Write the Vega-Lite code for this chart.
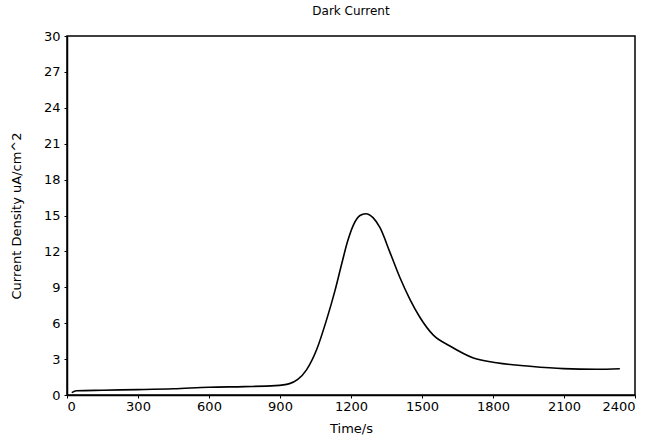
{
  "$schema": "https://vega.github.io/schema/vega-lite/v6.json",
  "width": 568,
  "height": 359,
  "autosize": {"type": "none"},
  "padding": {"left": 67, "top": 36, "right": 13, "bottom": 47},
  "background": "white",
  "title": {"text": "Dark Current", "font": "DejaVu Sans", "fontSize": 12, "fontWeight": "normal", "color": "black", "offset": 12, "anchor": "middle"},
  "config": {
    "view": {"stroke": "black", "strokeWidth": 1.5},
    "axis": {"domainColor": "black", "domainWidth": 1.5, "tickColor": "black", "grid": false, "labelFont": "DejaVu Sans", "labelFontSize": 13, "labelColor": "black", "titleFont": "DejaVu Sans", "titleFontSize": 13, "titleFontWeight": "normal", "titleColor": "black", "tickSize": 3}
  },
  "data": {"values": [
    {"t": 20, "v": 0.2},
    {"t": 40, "v": 0.35},
    {"t": 150, "v": 0.4},
    {"t": 300, "v": 0.45},
    {"t": 450, "v": 0.52},
    {"t": 600, "v": 0.65},
    {"t": 750, "v": 0.7},
    {"t": 880, "v": 0.78},
    {"t": 940, "v": 0.95},
    {"t": 975, "v": 1.3},
    {"t": 1012, "v": 2.1},
    {"t": 1055, "v": 3.8},
    {"t": 1097, "v": 6.3},
    {"t": 1132, "v": 8.7},
    {"t": 1160, "v": 10.9},
    {"t": 1185, "v": 12.8},
    {"t": 1210, "v": 14.2},
    {"t": 1238, "v": 15.0},
    {"t": 1262, "v": 15.15},
    {"t": 1294, "v": 14.8},
    {"t": 1322, "v": 14.0},
    {"t": 1365, "v": 11.9},
    {"t": 1407, "v": 9.8},
    {"t": 1449, "v": 8.0},
    {"t": 1491, "v": 6.5},
    {"t": 1548, "v": 5.0},
    {"t": 1618, "v": 4.1},
    {"t": 1717, "v": 3.1},
    {"t": 1815, "v": 2.7},
    {"t": 1956, "v": 2.4},
    {"t": 2097, "v": 2.2},
    {"t": 2238, "v": 2.15},
    {"t": 2336, "v": 2.2}
  ]},
  "mark": {"type": "line", "color": "black", "strokeWidth": 1.6, "interpolate": "monotone"},
  "encoding": {
    "x": {"field": "t", "type": "quantitative", "title": "Time/s", "scale": {"domain": [0, 2400], "nice": false}, "axis": {"values": [0, 300, 600, 900, 1200, 1500, 1800, 2100, 2400], "format": "d", "labelPadding": 2, "titlePadding": 9}},
    "y": {"field": "v", "type": "quantitative", "title": "Current Density uA/cm^2", "scale": {"domain": [0, 30], "nice": false}, "axis": {"values": [0, 3, 6, 9, 12, 15, 18, 21, 24, 27, 30], "format": "d", "labelPadding": 4, "titlePadding": 20}}
  }
}
